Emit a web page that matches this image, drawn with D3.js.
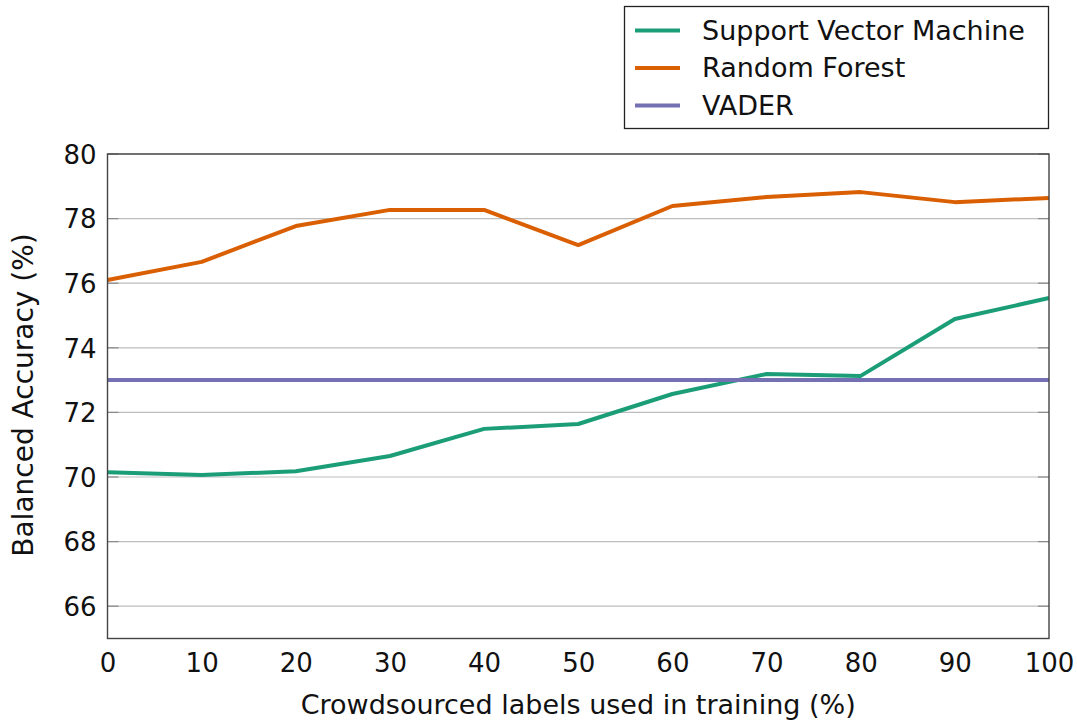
<!DOCTYPE html>
<html>
<head>
<meta charset="utf-8">
<script src="https://cdn.jsdelivr.net/npm/d3@7"></script>
<style>
  html, body { margin: 0; padding: 0; background: #fff; }
  svg text {
    font-family: "DejaVu Sans", sans-serif;
    fill: #111;
  }
</style>
</head>
<body>
<svg id="chart" width="1077" height="727"></svg>
<script>
// Share of crowdsourced labels used in training (%)
const labelShare = [0, 10, 20, 30, 40, 50, 60, 70, 80, 90, 100];

// Balanced accuracy (%) per model
const svmAccuracy = [70.15, 70.06, 70.18, 70.65, 71.49, 71.64, 72.57, 73.19, 73.13, 74.89, 75.54];
const rfAccuracy  = [76.10, 76.66, 77.77, 78.27, 78.27, 77.18, 78.39, 78.67, 78.82, 78.51, 78.64];
const vaderAccuracy = 73.0; // lexicon baseline, independent of training labels

const seriesNames = ["Support Vector Machine", "Random Forest", "VADER"];
const seriesColors = ["#1b9e77", "#d95f02", "#7570b3"];

const xTicks = [0, 10, 20, 30, 40, 50, 60, 70, 80, 90, 100];
const yTicks = [66, 68, 70, 72, 74, 76, 78, 80];

const svg = d3.select("#chart");
const plot = { left: 107.5, right: 1049, top: 154, bottom: 638.5 };

const x = d3.scaleLinear().domain([0, 100]).range([plot.left, plot.right]);
const y = d3.scaleLinear().domain([65, 80]).range([plot.bottom, plot.top]);

// horizontal grid
svg.append("g")
  .selectAll("line")
  .data(yTicks)
  .join("line")
  .attr("x1", plot.left).attr("x2", plot.right)
  .attr("y1", d => y(d)).attr("y2", d => y(d))
  .attr("stroke", "#bdbdbd").attr("stroke-width", 1.2);

// inward tick marks on both vertical axes
const tickLen = 11;
svg.append("g")
  .selectAll("line")
  .data(yTicks)
  .join("line")
  .attr("x1", plot.left).attr("x2", plot.left + tickLen)
  .attr("y1", d => y(d)).attr("y2", d => y(d))
  .attr("stroke", "#8a8a8a").attr("stroke-width", 1.2);
svg.append("g")
  .selectAll("line")
  .data(yTicks)
  .join("line")
  .attr("x1", plot.right - tickLen).attr("x2", plot.right)
  .attr("y1", d => y(d)).attr("y2", d => y(d))
  .attr("stroke", "#8a8a8a").attr("stroke-width", 1.2);

// tick labels via d3 axes (lines hidden; the frame is drawn separately)
const tickFont = 26;
const yAxis = svg.append("g")
  .attr("transform", `translate(${plot.left},0)`)
  .call(d3.axisLeft(y).tickValues(yTicks).tickSize(0).tickPadding(11));
yAxis.attr("font-family", null);
yAxis.select(".domain").remove();
yAxis.selectAll("text").attr("font-size", tickFont).attr("dy", "0.36em");

const xAxis = svg.append("g")
  .attr("transform", `translate(0,${plot.bottom})`)
  .call(d3.axisBottom(x).tickValues(xTicks).tickSize(0).tickPadding(15));
xAxis.attr("font-family", null);
xAxis.select(".domain").remove();
xAxis.selectAll("text").attr("font-size", tickFont);

// series lines
const line = d3.line()
  .x((d, i) => x(labelShare[i]))
  .y(d => y(d));

svg.append("path")
  .datum(rfAccuracy)
  .attr("fill", "none")
  .attr("stroke", seriesColors[1])
  .attr("stroke-width", 4)
  .attr("stroke-linejoin", "round")
  .attr("d", line);

svg.append("path")
  .datum(svmAccuracy)
  .attr("fill", "none")
  .attr("stroke", seriesColors[0])
  .attr("stroke-width", 4)
  .attr("stroke-linejoin", "round")
  .attr("d", line);

svg.append("line")
  .attr("x1", x(0)).attr("x2", x(100))
  .attr("y1", y(vaderAccuracy)).attr("y2", y(vaderAccuracy))
  .attr("stroke", seriesColors[2])
  .attr("stroke-width", 4);

// plot frame
svg.append("rect")
  .attr("x", plot.left).attr("y", plot.top)
  .attr("width", plot.right - plot.left)
  .attr("height", plot.bottom - plot.top)
  .attr("fill", "none")
  .attr("stroke", "#444")
  .attr("stroke-width", 1.4);

// axis titles
svg.append("text")
  .attr("x", (plot.left + plot.right) / 2)
  .attr("y", 714)
  .attr("text-anchor", "middle")
  .attr("font-size", 27)
  .text("Crowdsourced labels used in training (%)");

svg.append("text")
  .attr("transform", `translate(33,395) rotate(-90)`)
  .attr("text-anchor", "middle")
  .attr("font-size", 28)
  .text("Balanced Accuracy (%)");

// legend
const legend = svg.append("g");
legend.append("rect")
  .attr("x", 624.5).attr("y", 6.5)
  .attr("width", 424).attr("height", 122)
  .attr("fill", "#fff")
  .attr("stroke", "#222")
  .attr("stroke-width", 1.3);

const rows = legend.selectAll("g.row")
  .data(seriesNames)
  .join("g")
  .attr("class", "row")
  .attr("transform", (d, i) => `translate(0,${30.5 + i * 37.5})`);
rows.append("line")
  .attr("x1", 635).attr("x2", 680)
  .attr("y1", 0).attr("y2", 0)
  .attr("stroke", (d, i) => seriesColors[i])
  .attr("stroke-width", 4);
rows.append("text")
  .attr("x", 702)
  .attr("y", 9)
  .attr("font-size", 27)
  .text(d => d);
</script>
</body>
</html>
